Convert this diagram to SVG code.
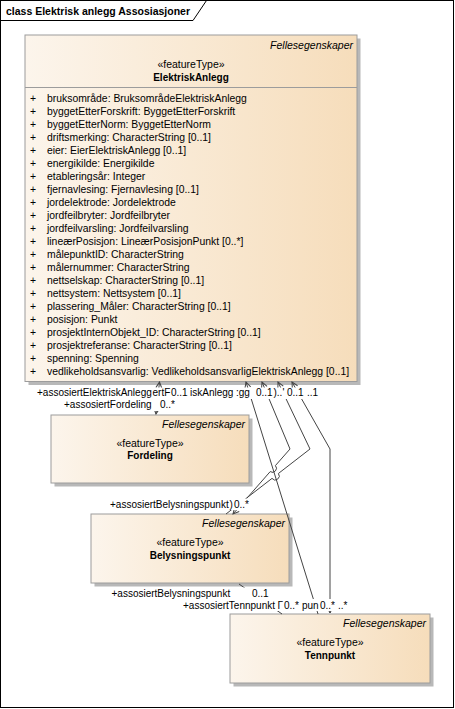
<svg xmlns="http://www.w3.org/2000/svg" width="455" height="709" viewBox="0 0 455 709">
<style>
text{font-family:"Liberation Sans",Arial,sans-serif;font-size:10px;fill:#000}
.title{font-weight:bold;font-size:10.5px}
.at{font-size:10.4px}
.st{font-size:10.5px;text-anchor:middle}
.nm{font-weight:bold;text-anchor:middle}
.fe{font-style:italic;font-size:10.5px;text-anchor:end}
.box{fill:url(#g);stroke:#9c9c9c;stroke-width:1}
.sh{fill:#b8b8b8}
.ln{fill:none;stroke:#444;stroke-width:1}
.bg{fill:#fff}
</style>
<defs>
<linearGradient id="g" x1="0" y1="0" x2="1" y2="0">
<stop offset="0" stop-color="#FCF5EC"/>
<stop offset="1" stop-color="#F6DDBB"/>
</linearGradient>
<marker id="a" viewBox="0 0 8 8" refX="7" refY="4" markerWidth="8" markerHeight="8" markerUnits="userSpaceOnUse" orient="auto-start-reverse">
<path d="M1,1 L7,4 L1,7" fill="none" stroke="#444" stroke-width="1"/>
</marker>
</defs>
<rect x="0" y="0" width="455" height="709" fill="#fff"/>
<g id="frame">
<rect x="0.5" y="0.5" width="453" height="707" fill="none" stroke="#000"/>
<path d="M0.5,20.5 H193 L206.5,0.5" fill="none" stroke="#000"/>
<text class="title" x="6" y="15">class Elektrisk anlegg Assosiasjoner</text>
</g>
<g id="ElektriskAnlegg">
<rect class="sh" x="28.5" y="38.5" width="332" height="346.5"/>
<rect class="box" x="25" y="35" width="332" height="346.5"/>
<line x1="25" y1="87.5" x2="357" y2="87.5" stroke="#9c9c9c"/>
<text class="fe" x="353" y="48.5">Fellesegenskaper</text>
<text class="st" x="191" y="68">«featureType»</text>
<text class="nm" x="191" y="81">ElektriskAnlegg</text>
<g class="attrs">
<text class="at" x="30" y="101.5">+</text><text class="at" x="47" y="101.5">bruksområde: BruksområdeElektriskAnlegg</text>
<text class="at" x="30" y="114.5">+</text><text class="at" x="47" y="114.5">byggetEtterForskrift: ByggetEtterForskrift</text>
<text class="at" x="30" y="127.5">+</text><text class="at" x="47" y="127.5">byggetEtterNorm: ByggetEtterNorm</text>
<text class="at" x="30" y="140.5">+</text><text class="at" x="47" y="140.5">driftsmerking: CharacterString [0..1]</text>
<text class="at" x="30" y="153.5">+</text><text class="at" x="47" y="153.5">eier: EierElektriskAnlegg [0..1]</text>
<text class="at" x="30" y="166.5">+</text><text class="at" x="47" y="166.5">energikilde: Energikilde</text>
<text class="at" x="30" y="179.5">+</text><text class="at" x="47" y="179.5">etableringsår: Integer</text>
<text class="at" x="30" y="192.5">+</text><text class="at" x="47" y="192.5">fjernavlesing: Fjernavlesing [0..1]</text>
<text class="at" x="30" y="205.5">+</text><text class="at" x="47" y="205.5">jordelektrode: Jordelektrode</text>
<text class="at" x="30" y="218.5">+</text><text class="at" x="47" y="218.5">jordfeilbryter: Jordfeilbryter</text>
<text class="at" x="30" y="231.5">+</text><text class="at" x="47" y="231.5">jordfeilvarsling: Jordfeilvarsling</text>
<text class="at" x="30" y="244.5">+</text><text class="at" x="47" y="244.5">lineærPosisjon: LineærPosisjonPunkt [0..*]</text>
<text class="at" x="30" y="257.5">+</text><text class="at" x="47" y="257.5">målepunktID: CharacterString</text>
<text class="at" x="30" y="270.5">+</text><text class="at" x="47" y="270.5">målernummer: CharacterString</text>
<text class="at" x="30" y="283.5">+</text><text class="at" x="47" y="283.5">nettselskap: CharacterString [0..1]</text>
<text class="at" x="30" y="296.5">+</text><text class="at" x="47" y="296.5">nettsystem: Nettsystem [0..1]</text>
<text class="at" x="30" y="309.5">+</text><text class="at" x="47" y="309.5">plassering_Måler: CharacterString [0..1]</text>
<text class="at" x="30" y="322.5">+</text><text class="at" x="47" y="322.5">posisjon: Punkt</text>
<text class="at" x="30" y="335.5">+</text><text class="at" x="47" y="335.5">prosjektInternObjekt_ID: CharacterString [0..1]</text>
<text class="at" x="30" y="348.5">+</text><text class="at" x="47" y="348.5">prosjektreferanse: CharacterString [0..1]</text>
<text class="at" x="30" y="361.5">+</text><text class="at" x="47" y="361.5">spenning: Spenning</text>
<text class="at" x="30" y="374.5">+</text><text class="at" x="47" y="374.5">vedlikeholdsansvarlig: VedlikeholdsansvarligElektriskAnlegg [0..1]</text>
</g>
</g>
<g id="Fordeling">
<rect class="sh" x="54.5" y="418.5" width="198" height="68"/>
<rect class="box" x="51" y="415" width="198" height="68"/>
<text class="fe" x="245" y="427.5">Fellesegenskaper</text>
<text class="st" x="150" y="446.5">«featureType»</text>
<text class="nm" x="150" y="459">Fordeling</text>
</g>
<g id="Belysningspunkt">
<rect class="sh" x="94.5" y="517.5" width="198" height="69"/>
<rect class="box" x="91" y="514" width="198" height="69"/>
<text class="fe" x="285" y="527">Fellesegenskaper</text>
<text class="st" x="190" y="546">«featureType»</text>
<text class="nm" x="190" y="559">Belysningspunkt</text>
</g>
<g id="Tennpunkt">
<rect class="sh" x="233.5" y="617.5" width="200" height="69"/>
<rect class="box" x="230" y="614" width="200" height="69"/>
<text class="fe" x="426" y="627">Fellesegenskaper</text>
<text class="st" x="330" y="646">«featureType»</text>
<text class="nm" x="330" y="659">Tennpunkt</text>
</g>
<g id="connectors">
<path class="ln" d="M159.5,382 L156,414" marker-start="url(#a)" marker-end="url(#a)"/>
<path class="ln" d="M246,382 L318,614" marker-start="url(#a)"/>
<path class="ln" d="M262,382 L290,449 L275.4,465.6 A4,4 0 0 1 270.2,471.6 L233,514" marker-start="url(#a)" marker-end="url(#a)"/>
<path class="ln" d="M278,382 L310,449 L278.4,473.5 A4,4 0 0 1 272,478.4 L226,514" marker-start="url(#a)"/>
<path class="ln" d="M292,382 L330,449 L330,613" marker-start="url(#a)" marker-end="url(#a)"/>
<path class="ln" d="M239,584 L282,614"/>
<g id="labels">
<rect class="bg" x="36" y="387.5" width="285" height="11.5"/>
<rect class="bg" x="63" y="399" width="114" height="12"/>
<text x="37" y="396">+assosiertElektriskAnlegg</text>
<text x="152.5" y="396">ertF</text>
<text x="171" y="396">0..1</text>
<text x="190" y="396">iskAnlegg</text>
<text x="236" y="396">:gg</text>
<text x="256" y="396">0..1</text>
<text x="273.5" y="396">)..'</text>
<text x="287" y="396">0..1</text>
<text x="307" y="396">..1</text>
<text x="64" y="408">+assosiertFordeling</text>
<text x="160" y="408">0..*</text>
<rect class="bg" x="109" y="498.5" width="142" height="11.5"/>
<text x="110" y="507.5">+assosiertBelysningspunkt</text>
<text x="229.5" y="507.5">)</text>
<text x="234" y="507.5">0..*</text>
<rect class="bg" x="110.5" y="587.5" width="159" height="11.5"/>
<rect class="bg" x="182" y="599" width="167" height="12"/>
<text x="111.5" y="596.5">+assosiertBelysningspunkt</text>
<text x="252" y="596.5">0..1</text>
<text x="183" y="608.5">+assosiertTennpunkt</text>
<text x="277.5" y="608.5">Γ</text>
<text x="284" y="608.5">0..*</text>
<text x="302" y="608.5">pun</text>
<text x="320" y="608.5">0..*</text>
<text x="338" y="608.5">..*</text>
</g>
</g>
</svg>
